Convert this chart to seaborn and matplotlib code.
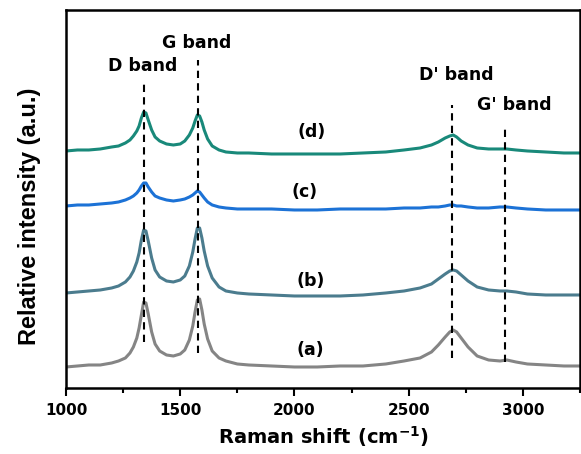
import numpy as np
import pandas as pd
import matplotlib
matplotlib.use("Agg")
import matplotlib.pyplot as plt
from matplotlib.ticker import MultipleLocator
from matplotlib.font_manager import FontProperties
import seaborn as sns

# Raman shift positions (cm-1)
raman_shift = [1000, 1050, 1100, 1150, 1200, 1230, 1260, 1280, 1295, 1310,
               1320, 1330, 1340, 1350, 1360, 1375, 1390, 1410, 1440, 1470,
               1500, 1520, 1540, 1555, 1565, 1575, 1585, 1595, 1605, 1620,
               1640, 1670, 1700, 1750, 1800, 1900, 2000, 2100, 2200, 2300,
               2400, 2480, 2550, 2600, 2630, 2660, 2680, 2695, 2710, 2730,
               2760, 2800, 2850, 2900, 2930, 2970, 3020, 3100, 3180, 3250]

# Relative intensity (a.u., stacked offsets included)
spec_a = [21, 22, 23, 23, 25, 27, 30, 35, 41, 50,
          60, 73, 86, 85, 74, 56, 44, 37, 33, 32,
          34, 38, 48, 62, 76, 88, 89, 78, 64, 49,
          37, 30, 27, 24, 23, 22, 21, 21, 22, 22,
          24, 27, 30, 36, 43, 51, 56, 58, 56, 50,
          41, 32, 28, 27, 28, 26, 24, 23, 22, 22]
spec_b = [95, 96, 97, 98, 100, 102, 106, 111, 117, 126,
          135, 148, 158, 157, 147, 130, 118, 111, 107, 106,
          108, 112, 122, 136, 149, 160, 160, 150, 137, 122,
          110, 101, 97, 95, 94, 93, 92, 92, 92, 93,
          95, 97, 100, 104, 109, 114, 117, 118, 117, 113,
          107, 101, 98, 97, 97, 96, 94, 93, 93, 93]
spec_c = [182, 183, 183, 184, 185, 186, 188, 190, 192, 195,
          198, 202, 205, 205, 201, 196, 192, 190, 188, 187,
          188, 189, 191, 193, 195, 197, 196, 193, 190, 186,
          183, 181, 180, 179, 179, 179, 178, 178, 179, 179,
          179, 180, 180, 181, 181, 182, 183, 183, 182, 182,
          181, 180, 180, 181, 181, 180, 179, 178, 178, 178]
spec_d = [237, 238, 238, 239, 241, 242, 245, 248, 252, 257,
          262, 270, 276, 275, 268, 258, 251, 247, 244, 243,
          244, 247, 253, 260, 267, 273, 272, 266, 258, 249,
          242, 238, 236, 235, 235, 234, 234, 234, 234, 235,
          236, 238, 240, 243, 246, 250, 252, 253, 251, 247,
          243, 240, 239, 239, 239, 238, 237, 236, 235, 235]

sample_names = ['(a)', '(b)', '(c)', '(d)']
sample_colors = ['#858585', '#4b7c8e', '#1c72d6', '#19897a']
label_x = [2068, 2072, 2046, 2077]
label_y = [38, 107, 196, 256]

# Band markers
band_pos = [1340, 1580, 2690, 2920]
band_names = ['D band', 'G band', "D' band", "G' band"]
band_top = [305, 328, 283, 263]
band_bottom = [46, 35, 30, 26]
band_label_x = [1337, 1570, 2707, 2961]
band_label_y = [322, 345, 313, 283]

sns.set_style("ticks")
plt.rcParams['font.family'] = ['DejaVu Sans']
plt.rcParams['text.color'] = 'black'
plt.rcParams['axes.labelcolor'] = 'black'
plt.rcParams['xtick.color'] = 'black'

fig = plt.figure(figsize=(5.81, 4.54), dpi=100)
ax = fig.add_axes([0.1136, 0.1454, 0.8846, 0.8326])

spectra = [spec_a, spec_b, spec_c, spec_d]
for name, col, spec in zip(sample_names, sample_colors, spectra):
    df = pd.DataFrame({'shift': raman_shift, 'intensity': spec})
    sns.lineplot(data=df, x='shift', y='intensity', color=col, linewidth=2.2, ax=ax)

# dashed band guides
for pos, top, bot in zip(band_pos, band_top, band_bottom):
    ax.plot([pos, pos], [bot, top], color='black', linestyle=(0, (3.5, 2.5)), linewidth=1.5)

# band labels
for name, bx, by in zip(band_names, band_label_x, band_label_y):
    ax.text(bx, by, name, ha='center', va='center', fontsize=12.5, fontweight='bold')

# sample labels
for name, lx, ly in zip(sample_names, label_x, label_y):
    ax.text(lx, ly, name, ha='center', va='center', fontsize=12.5, fontweight='bold')

ax.set_xlim(1000, 3250)
ax.set_ylim(0, 378)
ax.xaxis.set_major_locator(MultipleLocator(500))
ax.xaxis.set_minor_locator(MultipleLocator(250))
ax.tick_params(axis='x', which='major', direction='out', length=5.5, width=1.5,
               labelsize=11, pad=5, colors='black')
ax.tick_params(axis='x', which='minor', direction='out', length=3.5, width=1.5, colors='black')
ax.set_yticks([])
for lab in ax.get_xticklabels():
    lab.set_fontweight('bold')

for sp in ax.spines.values():
    sp.set_linewidth(1.8)
    sp.set_color('black')

ax.set_xlabel('Raman shift (cm$^{\\mathbf{-1}}$)', fontsize=14, fontweight='bold', labelpad=5)
ylab_font = FontProperties(family=['Liberation Sans', 'DejaVu Sans'], weight='bold', size=17)
ax.set_ylabel('Relative intensity (a.u.)', fontproperties=ylab_font)
ax.yaxis.set_label_coords(-0.048, 0.455)

fig.savefig('out.png', dpi=100)
